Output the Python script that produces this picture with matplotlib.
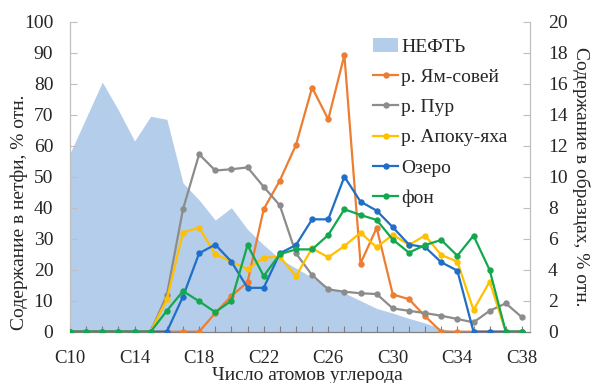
import matplotlib
matplotlib.use("Agg")
import matplotlib.pyplot as plt
from matplotlib.lines import Line2D
from matplotlib.patches import Patch
from matplotlib.ticker import MultipleLocator, FixedLocator

plt.rcParams['font.family'] = ['Liberation Serif', 'DejaVu Serif']

# Carbon numbers C10..C38
carbons = list(range(10, 39))
tick_carbons = [10, 14, 18, 22, 26, 30, 34, 38]
tick_labels = [f"C{c}" for c in tick_carbons]

# Oil distribution (left axis, %)
oil = [57.5, 69, 80.5, 71.5, 61.5, 69.5, 68.5, 48, 42.5, 36, 40, 33, 28, 23.5,
       20.5, 17.5, 14.5, 12.5, 10, 7.5, 6, 4.3, 2.8, 1, 0, 0, 0, 0, 0]

# Sample distributions (right axis, %)
yam_sovey = [0, 0, 0, 0, 0, 0, 0, 0, 0, 1.2, 2.3, 3.2, 7.9, 9.75, 12.05, 15.75,
             13.7, 17.85, 4.4, 6.7, 2.4, 2.1, 1.0, 0, 0, 0, 0, 0, 0]
pur = [0, 0, 0, 0, 0, 0, 2.37, 7.9, 11.45, 10.4, 10.48, 10.6, 9.35, 8.15, 5.05,
       3.65, 2.73, 2.58, 2.48, 2.43, 1.5, 1.35, 1.2, 1.03, 0.82, 0.6, 1.35, 1.83, 0.93]
apoku = [0, 0, 0, 0, 0, 0, 2.09, 6.39, 6.72, 5.0, 4.52, 4.03, 4.78, 4.84, 3.59,
         5.38, 4.8, 5.53, 6.39, 5.44, 6.26, 5.6, 6.2, 4.95, 4.52, 1.4, 3.23, 0, 0]
ozero = [0, 0, 0, 0, 0, 0, 0, 2.26, 5.06, 5.62, 4.52, 2.83, 2.83, 5.06, 5.59,
         7.25, 7.25, 10.0, 8.39, 7.81, 6.74, 5.62, 5.46, 4.48, 3.94, 0, 0, 0, 0]
fon = [0, 0, 0, 0, 0, 0, 1.35, 2.62, 1.96, 1.26, 2.0, 5.59, 3.59, 5.0, 5.31,
       5.31, 6.24, 7.9, 7.53, 7.21, 5.94, 5.1, 5.59, 5.92, 4.9, 6.2, 3.98, 0, 0]

series = [
    ("р. Ям-совей", yam_sovey, "#ED7D31"),
    ("р. Пур", pur, "#8C8C8C"),
    ("р. Апоку-яха", apoku, "#FFC000"),
    ("Озеро", ozero, "#1F6FC6"),
    ("фон", fon, "#14A84E"),
]
oil_label = "НЕФТЬ"
oil_color = "#B4CDEA"

text_color = "#262626"
fs = 14

fig = plt.figure(figsize=(5.92, 3.83), dpi=100)
W, H = 592, 383
ax = fig.add_axes([70 / W, 1 - 331.7 / H, 460 / W, 310 / H])
ax2 = ax.twinx()

ax.fill_between(carbons, oil, 0, color=oil_color, linewidth=0, zorder=1)

for name, vals, col in series:
    ax2.plot(carbons, vals, color=col, linewidth=1.6, marker='o', markersize=4.6,
             markeredgewidth=0, zorder=3)

ax.set_xlim(10, 38.5)
ax.set_ylim(0, 100)
ax2.set_ylim(0, 20)
ax.yaxis.set_major_locator(MultipleLocator(10))
ax2.yaxis.set_major_locator(MultipleLocator(2))
ax.xaxis.set_major_locator(FixedLocator(tick_carbons))
ax.set_xticklabels(tick_labels)
ax.xaxis.set_minor_locator(MultipleLocator(1))

for a in (ax, ax2):
    a.spines['top'].set_visible(False)
    a.spines['left'].set_color('#BFBFBF')
    a.spines['right'].set_color('#BFBFBF')
    a.spines['bottom'].set_color('#7F7F7F')
    a.set_facecolor('none')

ax.tick_params(axis='y', direction='in', length=5, width=0.8, color='#BFBFBF',
               pad=12, labelsize=fs, labelcolor=text_color)
ax2.tick_params(axis='y', direction='in', length=5, width=0.8, color='#BFBFBF',
                pad=13, labelsize=fs, labelcolor=text_color)
ax.tick_params(axis='x', which='both', direction='in', length=4, width=0.8,
               color='#7F7F7F', pad=13, labelsize=13.5, labelcolor=text_color)

fig.text(307 / W, 1 - 379.5 / H, "Число атомов углерода", ha='center',
         va='baseline', fontsize=fs, color=text_color)
fig.text(19.5 / W, 1 - 212 / H, "Содержание в нетфи, % отн.", rotation=90,
         ha='center', va='center', fontsize=fs, color=text_color)
fig.text(581 / W, 1 - 177 / H, "Содержание в образцах, % отн.", rotation=270,
         ha='center', va='center', fontsize=fs, color=text_color)

handles = [Patch(facecolor=oil_color, edgecolor='none')]
labels = [oil_label]
for name, vals, col in series:
    handles.append(Line2D([], [], color=col, linewidth=1.6, marker='o',
                          markersize=4.6, markeredgewidth=0))
    labels.append(name)
leg = ax2.legend(handles, labels, loc='upper left',
                 bbox_to_anchor=(373 / W, 1 - 38 / H),
                 bbox_transform=fig.transFigure, frameon=False, fontsize=fs,
                 borderpad=0, borderaxespad=0, handlelength=1.3,
                 handletextpad=0.15, labelspacing=0.65)
for t in leg.get_texts():
    t.set_color(text_color)

fig.savefig("out.png", dpi=100)
